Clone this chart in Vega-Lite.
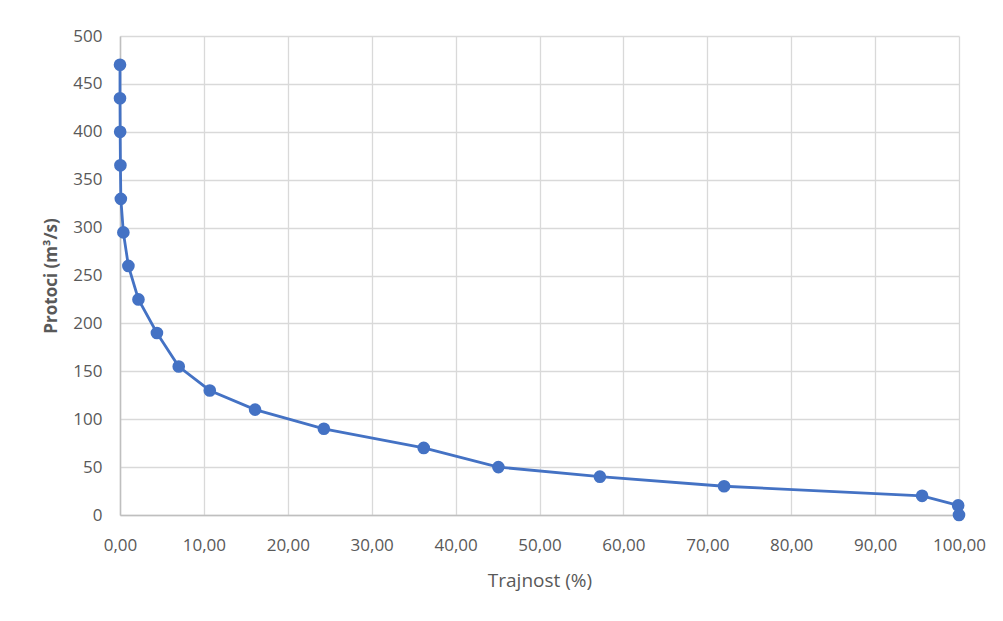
{
  "$schema": "https://vega.github.io/schema/vega-lite/v6.json",
  "autosize": {"type": "none"},
  "padding": {"left": 120, "top": 36, "right": 44, "bottom": 106},
  "width": 839,
  "height": 479,
  "background": "white",
  "config": {
    "view": {"stroke": null},
    "font": "Open Sans",
    "axis": {
      "labelColor": "#595959",
      "titleColor": "#595959",
      "labelFont": "Open Sans",
      "titleFont": "Open Sans",
      "labelFontSize": 17,
      "titleFontSize": 19,
      "gridColor": "#d9d9d9",
      "gridWidth": 1.3,
      "domainColor": "#bfbfbf",
      "domainWidth": 1.5,
      "ticks": false
    }
  },
  "data": {
    "values": [
      {"t": 0.0, "q": 470},
      {"t": 0.0, "q": 435},
      {"t": 0.02, "q": 400},
      {"t": 0.05, "q": 365},
      {"t": 0.1, "q": 330},
      {"t": 0.4, "q": 295},
      {"t": 1.0, "q": 260},
      {"t": 2.2, "q": 225},
      {"t": 4.4, "q": 190},
      {"t": 7.0, "q": 155},
      {"t": 10.7, "q": 130},
      {"t": 16.1, "q": 110},
      {"t": 24.3, "q": 90},
      {"t": 36.2, "q": 70},
      {"t": 45.1, "q": 50},
      {"t": 57.2, "q": 40},
      {"t": 72.0, "q": 30},
      {"t": 95.6, "q": 20},
      {"t": 99.9, "q": 10},
      {"t": 100.0, "q": 0}
    ]
  },
  "encoding": {
    "x": {
      "field": "t",
      "type": "quantitative",
      "scale": {"domain": [0, 100], "nice": false, "zero": false},
      "axis": {
        "values": [0, 10, 20, 30, 40, 50, 60, 70, 80, 90, 100],
        "labelExpr": "replace(format(datum.value, '.2f'), '.', ',')",
        "labelFlush": false,
        "labelOverlap": false,
        "title": "Trajnost (%)",
        "titleFontWeight": "normal",
        "labelPadding": 22,
        "titlePadding": 18,
        "domain": true
      }
    },
    "y": {
      "field": "q",
      "type": "quantitative",
      "scale": {"domain": [0, 500], "nice": false},
      "axis": {
        "values": [0, 50, 100, 150, 200, 250, 300, 350, 400, 450, 500],
        "labelFlush": false,
        "labelOverlap": false,
        "title": "Protoci (m³/s)",
        "titleFontWeight": "bold",
        "titleFontSize": 17,
        "labelPadding": 18,
        "titlePadding": 12,
        "domain": true
      }
    },
    "order": {"field": "q", "sort": "descending"}
  },
  "layer": [
    {"mark": {"type": "line", "color": "#4472C4", "strokeWidth": 2.8}},
    {"mark": {"type": "point", "filled": true, "color": "#4472C4", "opacity": 1, "size": 160}}
  ]
}
